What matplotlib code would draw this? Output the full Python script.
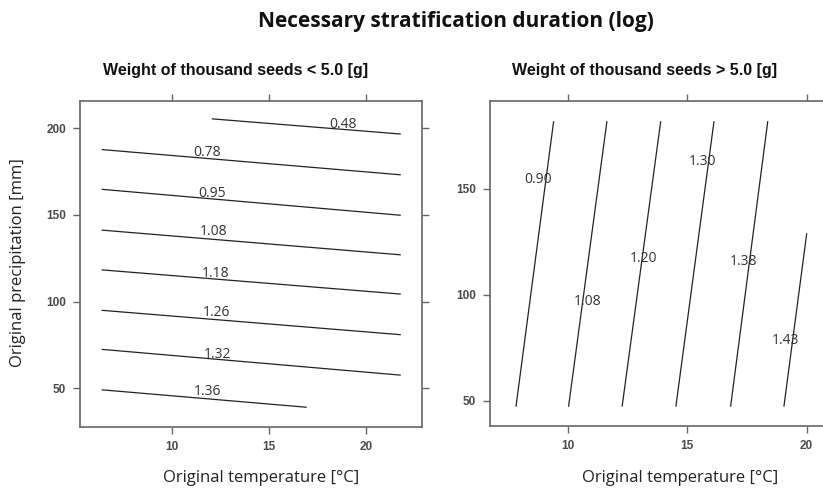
import numpy as np
import matplotlib.pyplot as plt

# contour segments for light seeds (< 5.0 g): level, start and end points
light_levels = ["0.48", "0.78", "0.95", "1.08", "1.18", "1.26", "1.32", "1.36"]
light_x0 = [12.07, 6.38, 6.38, 6.38, 6.38, 6.38, 6.38, 6.38]
light_y0 = [205.3, 187.6, 164.7, 141.2, 118.3, 95.0, 72.5, 49.2]
light_x1 = [21.77, 21.77, 21.77, 21.77, 21.77, 21.77, 21.77, 16.91]
light_y1 = [196.6, 173.1, 149.8, 127.0, 104.4, 81.0, 57.7, 39.2]
light_lab_x = [18.84, 11.81, 12.04, 12.12, 12.26, 12.30, 12.33, 11.81]
light_lab_y = [201.9, 186.0, 162.2, 140.2, 116.4, 94.0, 69.8, 48.2]

# contour segments for heavy seeds (> 5.0 g)
heavy_levels = ["0.90", "1.08", "1.20", "1.30", "1.38", "1.43"]
heavy_x0 = [7.84, 10.04, 12.28, 14.53, 16.82, 19.05]
heavy_y0 = [47.6, 47.6, 47.6, 47.6, 47.6, 47.6]
heavy_x1 = [9.41, 11.64, 13.89, 16.12, 18.37, 20.00]
heavy_y1 = [181.7, 181.7, 181.7, 181.7, 181.7, 128.8]
heavy_lab_x = [8.77, 10.82, 13.19, 15.63, 17.35, 19.12]
heavy_lab_y = [154.7, 96.8, 117.3, 162.9, 115.7, 78.4]

fig = plt.figure(figsize=(8.23, 4.92), dpi=100)
frame_col = "#666666"
text_col = "#333333"


def style_axes(ax):
    for s in ax.spines.values():
        s.set_color(frame_col)
        s.set_linewidth(1.2)
    ax.tick_params(direction="out", length=5, width=1, color=frame_col,
                   top=True, right=True, labeltop=False, labelright=False,
                   labelsize=8.5, labelcolor="#4a4a4a", pad=5)
    for lab in ax.get_xticklabels() + ax.get_yticklabels():
        lab.set_family("Liberation Sans")
        lab.set_fontweight("bold")


def draw(ax, levels, x0, y0, x1, y1, lx, ly):
    for i, lev in enumerate(levels):
        ax.plot([x0[i], x1[i]], [y0[i], y1[i]], color="#222222", lw=0.9)
        ax.text(lx[i], ly[i], lev, ha="center", va="center",
                fontsize=10, color=text_col, family="Open Sans")


ax1 = fig.add_axes([80 / 823, 1 - 427 / 492, 342 / 823, 326 / 492])
draw(ax1, light_levels, light_x0, light_y0, light_x1, light_y1,
     light_lab_x, light_lab_y)
ax1.set_xlim(5.23, 22.9)
ax1.set_ylim(27.8, 215.6)
ax1.set_xticks([10, 15, 20])
ax1.set_yticks([50, 100, 150, 200])
style_axes(ax1)

ax2 = fig.add_axes([490 / 823, 1 - 426 / 492, 342 / 823, 325 / 492])
draw(ax2, heavy_levels, heavy_x0, heavy_y0, heavy_x1, heavy_y1,
     heavy_lab_x, heavy_lab_y)
ax2.set_xlim(6.75, 21.06)
ax2.set_ylim(38.2, 191.5)
ax2.set_xticks([10, 15, 20])
ax2.set_yticks([50, 100, 150])
style_axes(ax2)

fig.text(456 / 823, 1 - 21 / 492, "Necessary stratification duration (log)",
         ha="center", va="center", fontsize=15, fontweight="bold",
         family="Open Sans", color="#111111")
fig.text(236 / 823, 1 - 71 / 492, "Weight of thousand seeds < 5.0 [g]",
         ha="center", va="center", fontsize=11.5, fontweight="bold",
         family="Liberation Sans", color="#111111")
fig.text(645 / 823, 1 - 71 / 492, "Weight of thousand seeds > 5.0 [g]",
         ha="center", va="center", fontsize=11.5, fontweight="bold",
         family="Liberation Sans", color="#111111")
fig.text(261 / 823, 1 - 478 / 492, "Original temperature [°C]",
         ha="center", va="center", fontsize=12, family="Open Sans",
         color="#222222")
fig.text(680 / 823, 1 - 478 / 492, "Original temperature [°C]",
         ha="center", va="center", fontsize=12, family="Open Sans",
         color="#222222")
fig.text(18 / 823, 1 - 263 / 492, "Original precipitation [mm]",
         ha="center", va="center", rotation=90, fontsize=12,
         family="Open Sans", color="#222222")

fig.savefig("out.png", dpi=100)
